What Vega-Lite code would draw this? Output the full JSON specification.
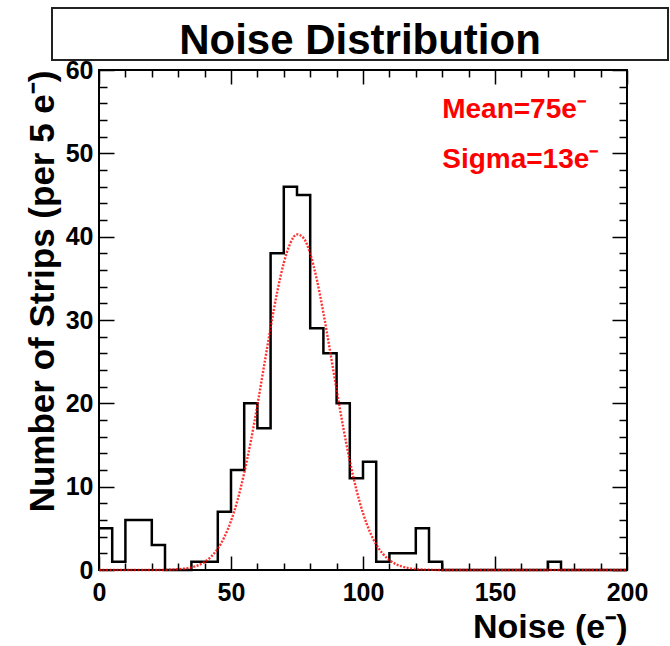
{
  "$schema": "https://vega.github.io/schema/vega-lite/v6.json",
  "background": "white",
  "padding": {"left": 24, "top": 7, "right": 0, "bottom": 0},
  "config": {
    "font": "Liberation Sans",
    "view": {"stroke": "black", "strokeWidth": 2}
  },
  "spacing": -6,
  "vconcat": [
    {
      "width": 616,
      "height": 52,
      "view": {"stroke": "#222222", "strokeWidth": 2, "fill": "white"},
      "data": {"values": [{"title": "Noise Distribution"}]},
      "mark": {"type": "text", "font": "Liberation Sans", "fontSize": 42, "fontWeight": "bold", "baseline": "middle", "color": "black", "dy": 7},
      "encoding": {"text": {"field": "title"}}
    },
    {
      "spacing": -30,
      "hconcat": [
        {
          "width": 1,
          "height": 500,
          "view": {"stroke": "white", "strokeWidth": 0.01, "fill": "white"},
          "data": {"values": [{"t": ""}]},
          "mark": {"type": "text"},
          "encoding": {"text": {"field": "t"}}
        },
        {
          "width": 528,
          "height": 500,
          "resolve": {"axis": {"x": "independent", "y": "independent"}},
          "layer": [
            {
              "data": {"values": [
                {"noise": 0, "count": 5}, {"noise": 5, "count": 1}, {"noise": 10, "count": 6}, {"noise": 15, "count": 6},
                {"noise": 20, "count": 3}, {"noise": 25, "count": 0}, {"noise": 30, "count": 0}, {"noise": 35, "count": 1},
                {"noise": 40, "count": 1}, {"noise": 45, "count": 7}, {"noise": 50, "count": 12}, {"noise": 55, "count": 20},
                {"noise": 60, "count": 17}, {"noise": 65, "count": 38}, {"noise": 70, "count": 46}, {"noise": 75, "count": 45},
                {"noise": 80, "count": 29}, {"noise": 85, "count": 26}, {"noise": 90, "count": 20}, {"noise": 95, "count": 11},
                {"noise": 100, "count": 13}, {"noise": 105, "count": 1}, {"noise": 110, "count": 2}, {"noise": 115, "count": 2},
                {"noise": 120, "count": 5}, {"noise": 125, "count": 1}, {"noise": 130, "count": 0}, {"noise": 135, "count": 0},
                {"noise": 140, "count": 0}, {"noise": 145, "count": 0}, {"noise": 150, "count": 0}, {"noise": 155, "count": 0},
                {"noise": 160, "count": 0}, {"noise": 165, "count": 0}, {"noise": 170, "count": 1}, {"noise": 175, "count": 0},
                {"noise": 180, "count": 0}, {"noise": 185, "count": 0}, {"noise": 190, "count": 0}, {"noise": 195, "count": 0},
                {"noise": 200, "count": 0}
              ]},
              "mark": {"type": "line", "interpolate": "step-after", "color": "black", "strokeWidth": 2.5},
              "encoding": {
                "x": {
                  "field": "noise", "type": "quantitative",
                  "scale": {"domain": [0, 200], "nice": false, "zero": false},
                  "axis": {
                    "orient": "bottom",
                    "values": [0,10,20,30,40,50,60,70,80,90,100,110,120,130,140,150,160,170,180,190,200],
                    "labelExpr": "datum.value % 50 === 0 ? datum.label : ''",
                    "tickSize": {"expr": "datum.value % 50 === 0 ? -14 : -7"},
                    "tickColor": "black", "tickWidth": 1.5,
                    "domain": false, "grid": false,
                    "labelFont": "Liberation Sans", "labelFontSize": 25, "labelFontWeight": "bold", "labelColor": "black",
                    "labelPadding": 24, "labelFlush": false, "labelOverlap": false,
                    "title": "Noise (e⁻)", "titleAnchor": "end", "titleFont": "Liberation Sans", "titleFontSize": 34,
                    "titleFontWeight": "bold", "titleColor": "black", "titlePadding": -2
                  }
                },
                "y": {
                  "field": "count", "type": "quantitative",
                  "scale": {"domain": [0, 60], "nice": false},
                  "axis": {
                    "orient": "left",
                    "values": [0,2,4,6,8,10,12,14,16,18,20,22,24,26,28,30,32,34,36,38,40,42,44,46,48,50,52,54,56,58,60],
                    "labelExpr": "datum.value % 10 === 0 ? datum.label : ''",
                    "tickSize": {"expr": "datum.value % 10 === 0 ? -15 : -8"},
                    "tickColor": "black", "tickWidth": 1.5,
                    "domain": false, "grid": false,
                    "labelFont": "Liberation Sans", "labelFontSize": 25, "labelFontWeight": "bold", "labelColor": "black",
                    "labelPadding": 21, "labelFlush": false, "labelOverlap": false,
                    "title": "Number of Strips (per 5 e⁻)", "titleAnchor": "end", "titleFont": "Liberation Sans", "titleFontSize": 35,
                    "titleFontWeight": "bold", "titleColor": "black", "titlePadding": 5
                  }
                }
              }
            },
            {
              "data": {"values": [
                {"noise": 0, "fit": 0}, {"noise": 10, "fit": 0}, {"noise": 20, "fit": 0}, {"noise": 25, "fit": 0.01},
                {"noise": 27.5, "fit": 0.04}, {"noise": 30, "fit": 0.09}, {"noise": 32.5, "fit": 0.17}, {"noise": 35, "fit": 0.31},
                {"noise": 37.5, "fit": 0.56}, {"noise": 40, "fit": 0.97}, {"noise": 42.5, "fit": 1.61}, {"noise": 45, "fit": 2.57},
                {"noise": 47.5, "fit": 3.96}, {"noise": 50, "fit": 5.88}, {"noise": 52.5, "fit": 8.42}, {"noise": 55, "fit": 11.63},
                {"noise": 57.5, "fit": 15.45}, {"noise": 60, "fit": 19.8}, {"noise": 62.5, "fit": 24.44}, {"noise": 65, "fit": 29.08},
                {"noise": 67.5, "fit": 33.35}, {"noise": 70, "fit": 36.85}, {"noise": 72.5, "fit": 39.24}, {"noise": 75, "fit": 40.27},
                {"noise": 77.5, "fit": 39.83}, {"noise": 80, "fit": 37.96}, {"noise": 82.5, "fit": 34.86}, {"noise": 85, "fit": 30.86},
                {"noise": 87.5, "fit": 26.32}, {"noise": 90, "fit": 21.63}, {"noise": 92.5, "fit": 17.14}, {"noise": 95, "fit": 13.09},
                {"noise": 97.5, "fit": 9.63}, {"noise": 100, "fit": 6.82}, {"noise": 102.5, "fit": 4.66}, {"noise": 105, "fit": 3.07},
                {"noise": 107.5, "fit": 1.95}, {"noise": 110, "fit": 1.19}, {"noise": 112.5, "fit": 0.7}, {"noise": 115, "fit": 0.4},
                {"noise": 117.5, "fit": 0.22}, {"noise": 120, "fit": 0.11}, {"noise": 125, "fit": 0.03}, {"noise": 130, "fit": 0},
                {"noise": 150, "fit": 0}, {"noise": 175, "fit": 0}, {"noise": 200, "fit": 0}
              ]},
              "mark": {"type": "line", "interpolate": "monotone", "color": "#ff0000", "strokeWidth": 2.4, "strokeDash": [2, 1.5], "opacity": 0.8},
              "encoding": {
                "x": {
                  "field": "noise", "type": "quantitative",
                  "axis": {
                    "orient": "top",
                    "values": [0,10,20,30,40,50,60,70,80,90,100,110,120,130,140,150,160,170,180,190,200],
                    "labels": false, "title": null, "domain": false, "grid": false,
                    "tickSize": {"expr": "datum.value % 50 === 0 ? -14 : -7"},
                    "tickColor": "black", "tickWidth": 1.5
                  }
                },
                "y": {
                  "field": "fit", "type": "quantitative",
                  "axis": {
                    "orient": "right",
                    "values": [0,2,4,6,8,10,12,14,16,18,20,22,24,26,28,30,32,34,36,38,40,42,44,46,48,50,52,54,56,58,60],
                    "labels": false, "title": null, "domain": false, "grid": false,
                    "tickSize": {"expr": "datum.value % 10 === 0 ? -15 : -8"},
                    "tickColor": "black", "tickWidth": 1.5
                  }
                }
              }
            },
            {
              "data": {"values": [
                {"noise": 130, "count": 54.2, "label": "Mean=75e⁻"},
                {"noise": 130, "count": 48.3, "label": "Sigma=13e⁻"}
              ]},
              "mark": {"type": "text", "align": "left", "baseline": "alphabetic", "font": "Liberation Sans", "fontSize": 28, "fontWeight": "bold", "color": "#ff0000"},
              "encoding": {
                "x": {"field": "noise", "type": "quantitative", "axis": null},
                "y": {"field": "count", "type": "quantitative", "axis": null},
                "text": {"field": "label"}
              }
            }
          ]
        }
      ]
    }
  ]
}
